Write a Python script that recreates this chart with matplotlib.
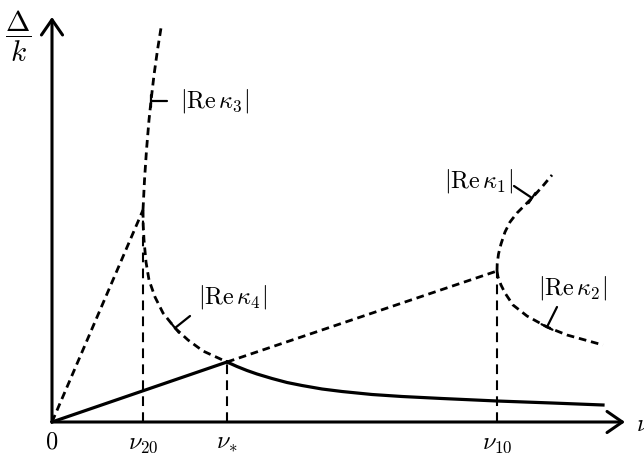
import matplotlib
matplotlib.use("Agg")
import matplotlib.pyplot as plt

plt.rcParams["mathtext.fontset"] = "cm"
plt.rcParams["lines.scale_dashes"] = False

# Characteristic frequencies on the nu axis
nu_20 = 0.91
nu_star = 1.75
nu_10 = 4.45

# Branch points / crossing values of Delta/k
d_20 = 2.12
d_star = 0.60
d_10 = 1.51

# Straight branches
steep_nu = [0.0, nu_20]
steep_d = [0.0, d_20]
rise_nu = [0.0, nu_star]
rise_d = [0.0, d_star]
upper_nu = [nu_star, nu_10]
upper_d = [d_star, d_10]

# |Re kappa_3| (above nu_20)
k3_nu = [0.91, 0.925, 0.945, 0.97, 0.99, 1.02, 1.055, 1.09]
k3_d = [2.12, 2.42, 2.72, 3.02, 3.21, 3.47, 3.72, 3.94]

# |Re kappa_4| between nu_20 and nu_*
k4_nu = [0.91, 0.912, 0.92, 0.94, 0.97, 1.03, 1.11, 1.23, 1.36, 1.51, 1.75]
k4_d = [2.12, 1.97, 1.82, 1.60, 1.42, 1.25, 1.09, 0.94, 0.82, 0.71, 0.60]

# continuation of |Re kappa_4| beyond nu_*
tail_nu = [1.75, 1.85, 1.95, 2.05, 2.20, 2.35, 2.50, 2.70, 2.90, 3.20,
           3.50, 3.90, 4.45, 5.00, 5.51]
tail_d = [0.600, 0.555, 0.515, 0.480, 0.435, 0.395, 0.365, 0.330, 0.305, 0.275,
          0.255, 0.235, 0.210, 0.190, 0.170]

# |Re kappa_1| and |Re kappa_2| from nu_10
k1_nu = [4.45, 4.452, 4.465, 4.49, 4.53, 4.58, 4.65, 4.72, 4.80, 4.90, 5.00]
k1_d = [1.51, 1.58, 1.68, 1.78, 1.90, 2.00, 2.09, 2.16, 2.24, 2.35, 2.47]
k2_nu = [4.45, 4.46, 4.49, 4.53, 4.61, 4.75, 4.95, 5.15, 5.51]
k2_d = [1.51, 1.45, 1.37, 1.29, 1.17, 1.06, 0.95, 0.87, 0.77]

tick_pos = [0.0, nu_20, nu_star, nu_10]
tick_labels = [r"$0$", r"$\nu_{20}$", r"$\nu_{*}$", r"$\nu_{10}$"]

fs = 17.5
dash = (0, (5.5, 3.5))
vdash = (0, (7.0, 4.5))

fig = plt.figure(figsize=(6.44, 4.57), dpi=100)
ax = fig.add_axes([0, 0, 1, 1])
ax.set_xlim(-0.52, 5.92)
ax.set_ylim(-0.35, 4.22)
ax.axis("off")

# axes with open arrow heads
arrow = dict(arrowstyle="->,head_length=0.55,head_width=0.38", lw=2.2,
             color="black", shrinkA=0, shrinkB=0, mutation_scale=20)
ax.annotate("", xy=(5.73, 0), xytext=(0, 0), arrowprops=arrow)
ax.annotate("", xy=(0, 4.05), xytext=(0, 0), arrowprops=arrow)

# dashed branches
for xs, ys in [(steep_nu, steep_d), (k3_nu, k3_d), (k4_nu, k4_d),
               (upper_nu, upper_d), (k1_nu, k1_d), (k2_nu, k2_d)]:
    ax.plot(xs, ys, color="black", lw=2.0, ls=dash, solid_capstyle="butt")

# solid lower envelope
ax.plot(rise_nu, rise_d, color="black", lw=2.3)
ax.plot(tail_nu, tail_d, color="black", lw=2.3)

# vertical guides
for x0, y0 in [(nu_20, d_20), (nu_star, d_star), (nu_10, d_10)]:
    ax.plot([x0, x0], [0, y0], color="black", lw=1.5, ls=vdash)

# tick labels
for x0, lab in zip(tick_pos, tick_labels):
    ax.text(x0, -0.265, lab, fontsize=fs, ha="center", va="baseline")
ax.text(5.84, -0.02, r"$\nu$", fontsize=fs, ha="left", va="center")
ax.text(-0.34, 3.86, r"$\dfrac{\Delta}{k}$", fontsize=21, ha="center", va="center")

# curve labels with leader lines
leader = dict(arrowstyle="-[,widthB=0.22,lengthB=0", lw=1.6, color="black",
              shrinkA=0, shrinkB=0, mutation_scale=20)
labels = [
    (r"$|\mathrm{Re}\,\kappa_3|$", (0.99, 3.21), (1.15, 3.21), (1.28, 3.21), "left"),
    (r"$|\mathrm{Re}\,\kappa_4|$", (1.23, 0.94), (1.38, 1.06), (1.46, 1.25), "left"),
    (r"$|\mathrm{Re}\,\kappa_1|$", (4.80, 2.24), (4.62, 2.36), (4.61, 2.41), "right"),
    (r"$|\mathrm{Re}\,\kappa_2|$", (4.95, 0.95), (5.05, 1.15), (5.20, 1.34), "center"),
]
for txt, pt, end, pos, ha in labels:
    ax.annotate("", xy=pt, xytext=end, arrowprops=leader)
    ax.text(pos[0], pos[1], txt, fontsize=fs, ha=ha, va="center")

fig.savefig("out.png", dpi=100)
